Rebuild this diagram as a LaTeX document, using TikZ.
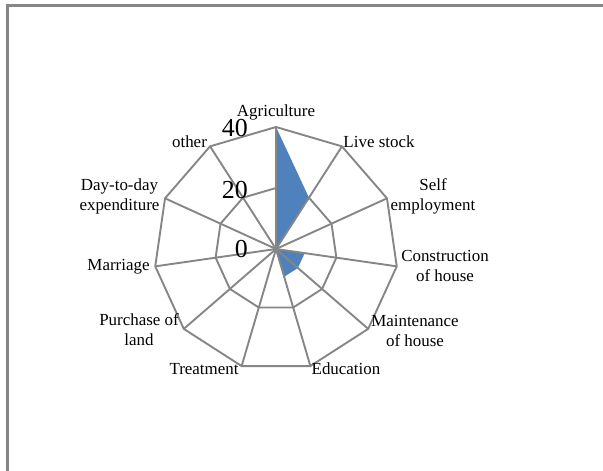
\documentclass[tikz,border=0pt]{standalone}
\usepackage{fontspec}
\setmainfont{Liberation Serif}
\definecolor{gridgray}{RGB}{134,134,134}
\definecolor{seriesblue}{RGB}{79,129,189}
\tikzset{
  grid line/.style={draw=gridgray,line width=1.9bp,line join=miter},
  axis label/.style={font=\fontsize{17}{20}\selectfont,align=center,inner sep=0pt},
  tick label/.style={font=\fontsize{26}{28}\selectfont,inner sep=0pt,anchor=east}
}
\begin{document}
\begin{tikzpicture}[x=1bp,y=-1bp]
\useasboundingbox (0,0) rectangle (603,471);
% frame of the chart area
\draw[gridgray,line width=2.4bp] (7.5,471) -- (7.5,5.5) -- (603,5.5);

\coordinate (c) at (276,249);
\foreach \i in {0,...,10}{
  \coordinate (o\i) at ([shift={({\i*360/11-90}:122)}]c);
  \coordinate (m\i) at ([shift={({\i*360/11-90}:61)}]c);
}
\foreach \v [count=\i from 0] in {40,20,0,9.5,9.5,9.5,0,0,0,0,0}
  \coordinate (d\i) at ([shift={({\i*360/11-90}:{\v*122/40})}]c);

% web
\draw[grid line] (o0) \foreach \i in {1,...,10}{ -- (o\i)} -- cycle;
\draw[grid line] (m0) \foreach \i in {1,...,10}{ -- (m\i)} -- cycle;
\fill[seriesblue] (d0) \foreach \i in {1,...,10}{ -- (d\i)} -- cycle;
\foreach \i in {0,...,10}
  \draw[grid line] (c) -- (o\i);

% category labels
\node[axis label] (agri) at (276,112) {Agriculture};
\node[axis label] (live) at (379,142) {Live stock};
\node[axis label] (self) at (433,196) {Self\\employment};
\node[axis label] (cons) at (445,266) {Construction\\of house};
\node[axis label] (main) at (415,331) {Maintenance\\of house};
\node[axis label] (educ) at (346,369) {Education};
\node[axis label] (treat) at (204,369) {Treatment};
\node[axis label] (land) at (139,330) {Purchase of\\land};
\node[axis label] (marr) at (118.5,267) {Marriage};
\node[axis label] (day) at (119.5,196) {Day-to-day\\expenditure};
\node[axis label] (other) at (189.5,142) {other};

% scale
\node[tick label] (t40) at (248,128) {40};
\node[tick label] (t20) at (248,190) {20};
\node[tick label] (t0) at (248,249) {0};
\end{tikzpicture}
\end{document}
